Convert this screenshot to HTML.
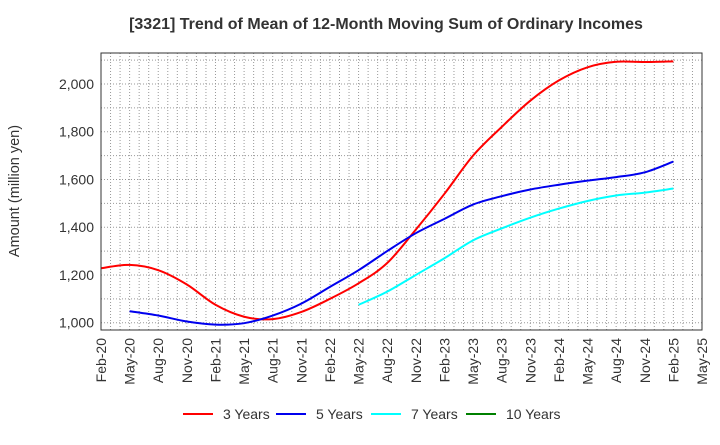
<!DOCTYPE html>
<html><head><meta charset="utf-8"><style>
body{margin:0;background:#fff;font-family:"Liberation Sans",sans-serif;}
</style></head><body>
<svg width="720" height="440" id="c" font-family="Liberation Sans, sans-serif">
<text x="386" y="29" text-anchor="middle" font-size="16" font-weight="bold" fill="#333">[3321]  Trend of Mean of 12-Month Moving Sum of Ordinary Incomes</text>
<text transform="translate(19,191) rotate(-90)" text-anchor="middle" font-size="14.5" fill="#333">Amount (million yen)</text>
<g id="grid"></g><g id="series"></g><g id="axes"></g><g id="legend"></g>
</svg>
<script>
const xLabels=["Feb-20","May-20","Aug-20","Nov-20","Feb-21","May-21","Aug-21","Nov-21","Feb-22","May-22","Aug-22","Nov-22","Feb-23","May-23","Aug-23","Nov-23","Feb-24","May-24","Aug-24","Nov-24","Feb-25","May-25"];
const yTicks=[1000,1200,1400,1600,1800,2000];
const y3=[1228,1242,1220,1160,1075,1025,1015,1045,1100,1165,1250,1390,1540,1700,1820,1930,2015,2070,2093,2092,2095];
const y5=[null,1048,1030,1005,992,998,1030,1080,1150,1220,1300,1375,1435,1495,1530,1558,1578,1595,1610,1630,1675];
const y7=[null,null,null,null,null,null,null,null,null,1075,1130,1200,1270,1345,1395,1440,1478,1510,1533,1545,1562];
const y10=[];
const L=101,R=702,T=53,B=330;
const ns="http://www.w3.org/2000/svg";
const X=i=>L+i*(R-L)/(xLabels.length-1);
const Y=v=>322.7-(v-1000)*0.2387;
function mk(t,a,p){const e=document.createElementNS(ns,t);for(const k in a)e.setAttribute(k,a[k]);p.appendChild(e);return e;}
const g=document.getElementById('grid'),ax=document.getElementById('axes'),s=document.getElementById('series'),lg=document.getElementById('legend');
for(let m=1;m<(xLabels.length-1)*3;m++){const x=L+m*(R-L)/((xLabels.length-1)*3);
const l=mk('line',{x1:x,x2:x,y1:T,y2:B,stroke:'#999','stroke-dasharray':'1,2','stroke-width':1},g);

}
for(let v=1000;v<=2100;v+=100){const y=Y(v);if(y<T)continue;
const l=mk('line',{x1:L,x2:R,y1:y,y2:y,stroke:'#999','stroke-dasharray':'1,2','stroke-width':1},g);

}
const fr=mk('rect',{x:L,y:T,width:R-L,height:B-T,fill:'none',stroke:'#333','stroke-width':1},ax);


yTicks.forEach(v=>{const t=mk('text',{x:L-7,y:Y(v)+5,'text-anchor':'end','font-size':14,fill:'#333'},ax);t.textContent=v.toLocaleString('en-US');

});
xLabels.forEach((lb,i)=>{const t=mk('text',{transform:`translate(${X(i)+5},${B+8}) rotate(-90)`,'text-anchor':'end','font-size':14,fill:'#333'},ax);t.textContent=lb;

});
function path(arr){const p=[];arr.forEach((v,i)=>{if(v!=null)p.push([X(i),Y(v)]);});if(p.length<2)return '';
let d=`M${p[0][0]},${p[0][1]}`;for(let i=0;i<p.length-1;i++){const p0=p[i-1]||p[i],p1=p[i],p2=p[i+1],p3=p[i+2]||p2;
d+=`C${p1[0]+(p2[0]-p0[0])/6},${p1[1]+(p2[1]-p0[1])/6} ${p2[0]-(p3[0]-p1[0])/6},${p2[1]-(p3[1]-p1[1])/6} ${p2[0]},${p2[1]}`;}return d;}
const ser=[[y3,'#ff0000','3 Years','line-3-years'],[y5,'#0000ee','5 Years','line-5-years'],[y7,'#00ffff','7 Years','line-7-years'],[y10,'#008000','10 Years','line-10-years']];
ser.forEach(([a,c,n,id],k)=>{const d=path(a);if(d){const p=mk('path',{d,fill:'none',stroke:c,'stroke-width':2},s);

}
const lx=[183,276,371,466][k];
const l=mk('line',{x1:lx,x2:lx+30,y1:414,y2:414,stroke:c,'stroke-width':2},lg);


const t=mk('text',{x:lx+40,y:419,'font-size':14,fill:'#333'},lg);t.textContent=n;

});
</script>
</body></html>
